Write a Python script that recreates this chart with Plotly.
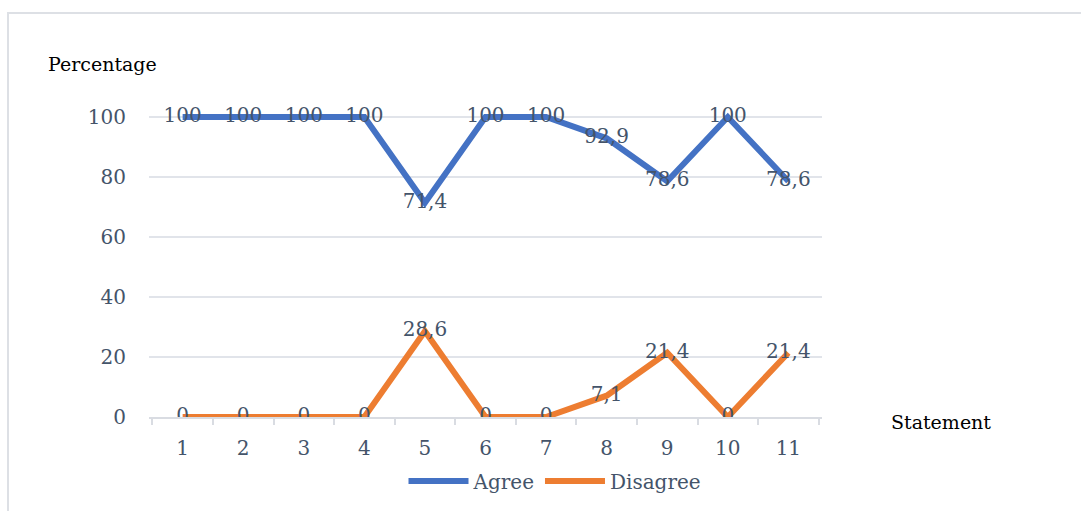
import plotly.graph_objects as go

statements = ["1", "2", "3", "4", "5", "6", "7", "8", "9", "10", "11"]
agree = [100, 100, 100, 100, 71.4, 100, 100, 92.9, 78.6, 100, 78.6]
disagree = [0, 0, 0, 0, 28.6, 0, 0, 7.1, 21.4, 0, 21.4]
y_ticks = [0, 20, 40, 60, 80, 100]

FONT = "DejaVu Serif"
LABEL_COLOR = "#44546A"
GRID = "#E1E4EA"


def fmt(v):
    # decimal comma, no trailing zeros for whole numbers
    return (f"{v:g}").replace(".", ",")


fig = go.Figure()
for name, vals, color in [("Agree", agree, "#4472C4"), ("Disagree", disagree, "#ED7D31")]:
    fig.add_trace(go.Scatter(
        x=statements, y=vals, name=name, mode="lines+text",
        line=dict(color=color, width=6),
        text=[fmt(v) for v in vals], textposition="middle center",
        textfont=dict(family=FONT, size=20, color=LABEL_COLOR),
    ))

L, R, T, B = 149, 259, 57, 93
W, H = 1081, 511
pw, ph = W - L - R, H - T - B


def px_x(p):
    return (p - L) / pw


def px_y(p):
    return (H - B - p) / ph


fig.update_layout(
    width=W, height=H,
    margin=dict(l=L, r=R, t=T, b=B),
    paper_bgcolor="white", plot_bgcolor="white",
    font=dict(family=FONT, size=20, color=LABEL_COLOR),
    showlegend=True,
    legend=dict(orientation="h", x=px_x(555), xanchor="center", y=px_y(481), yanchor="middle",
                font=dict(family=FONT, size=20, color=LABEL_COLOR),
                itemwidth=60, tracegroupgap=0),
    xaxis=dict(type="category", showgrid=False, showline=True, linecolor="#D9DCE2", linewidth=2,
               ticks="outside", tickson="boundaries", ticklen=6, tickcolor="#D9DCE2", tickwidth=2,
               ticklabelstandoff=12,
               tickfont=dict(family=FONT, size=20, color=LABEL_COLOR), zeroline=False),
    yaxis=dict(range=[0, 120], tickvals=y_ticks, showgrid=True, gridcolor=GRID, gridwidth=2,
               showline=False, zeroline=False, ticklabelstandoff=22,
               tickfont=dict(family=FONT, size=20, color=LABEL_COLOR)),
    shapes=[dict(type="rect", xref="paper", yref="paper",
                 x0=px_x(8), x1=px_x(1090), y0=px_y(13), y1=px_y(520),
                 line=dict(color="#DDE0E5", width=2), fillcolor="rgba(0,0,0,0)", layer="below")],
    annotations=[
        dict(text="Percentage", xref="paper", yref="paper", x=px_x(46), y=px_y(64),
             xanchor="left", yanchor="middle", showarrow=False, bgcolor="white",
             font=dict(family=FONT, size=19, color="black")),
        dict(text="Statement", xref="paper", yref="paper", x=px_x(889), y=px_y(423),
             xanchor="left", yanchor="middle", showarrow=False,
             font=dict(family=FONT, size=19, color="black")),
    ],
)

fig.write_html("out.html")
